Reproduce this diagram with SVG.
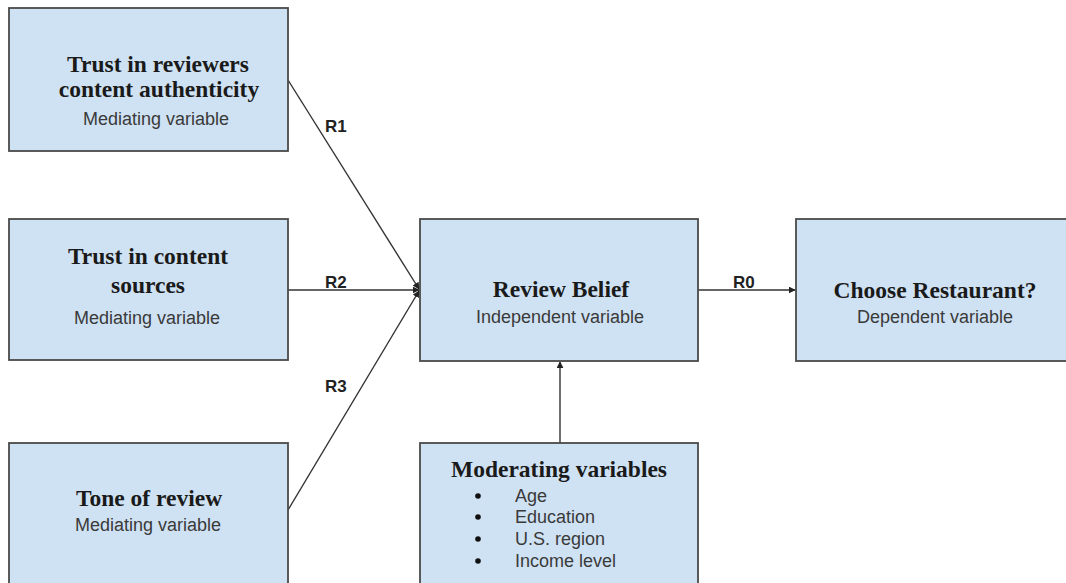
<svg xmlns="http://www.w3.org/2000/svg" width="1066" height="583" viewBox="0 0 1066 583">
<defs>
<style>
.box{fill:#cfe2f3;stroke:#4a4a4a;stroke-width:1.8}
.t{font-family:"Liberation Serif","Times New Roman",serif;font-weight:bold;font-size:23.5px;fill:#1a1a1a;text-anchor:middle}
.s{font-family:"Liberation Sans",Arial,sans-serif;font-size:18px;fill:#3a3a3a;text-anchor:middle}
.l{font-family:"Liberation Sans",Arial,sans-serif;font-size:18px;fill:#3a3a3a}
.r{font-family:"Liberation Sans",Arial,sans-serif;font-weight:bold;font-size:17px;fill:#222}
.c{stroke:#333;stroke-width:1.4;fill:none}
</style>
<marker id="ah" viewBox="0 0 10 10" refX="9" refY="5" markerWidth="7" markerHeight="7" markerUnits="userSpaceOnUse" orient="auto">
<path d="M0,0 L10,5 L0,10 z" fill="#222"/>
</marker>
</defs>
<rect width="1066" height="583" fill="#ffffff"/>
<g id="connectors">
<line class="c" x1="288" y1="80" x2="419" y2="289" marker-end="url(#ah)"/>
<line class="c" x1="288" y1="290" x2="419" y2="290" marker-end="url(#ah)"/>
<line class="c" x1="288" y1="510" x2="419" y2="291" marker-end="url(#ah)"/>
<line class="c" x1="698" y1="290" x2="795" y2="290" marker-end="url(#ah)"/>
<line class="c" x1="560" y1="443" x2="560" y2="362" marker-end="url(#ah)"/>
<text class="r" x="325" y="132">R1</text>
<text class="r" x="325" y="288">R2</text>
<text class="r" x="325" y="392">R3</text>
<text class="r" x="733" y="288">R0</text>
</g>
<g id="node-trust-reviewers">
<rect class="box" x="9" y="8" width="279" height="143"/>
<text class="t" x="158" y="72">Trust in reviewers</text>
<text class="t" x="159" y="97">content authenticity</text>
<text class="s" x="156" y="125">Mediating variable</text>
</g>
<g id="node-trust-sources">
<rect class="box" x="9" y="219" width="279" height="141"/>
<text class="t" x="148" y="264">Trust in content</text>
<text class="t" x="148" y="293">sources</text>
<text class="s" x="147" y="324">Mediating variable</text>
</g>
<g id="node-tone">
<rect class="box" x="9" y="443" width="279" height="150"/>
<text class="t" x="149" y="506">Tone of review</text>
<text class="s" x="148" y="531">Mediating variable</text>
</g>
<g id="node-review-belief">
<rect class="box" x="420" y="219" width="278" height="142"/>
<text class="t" x="561" y="297">Review Belief</text>
<text class="s" x="560" y="323">Independent variable</text>
</g>
<g id="node-choose">
<rect class="box" x="796" y="219" width="280" height="142"/>
<text class="t" x="935" y="298">Choose Restaurant?</text>
<text class="s" x="935" y="323">Dependent variable</text>
</g>
<g id="node-moderating">
<rect class="box" x="420" y="443" width="278" height="150"/>
<text class="t" x="559" y="477">Moderating variables</text>
<circle cx="478" cy="496" r="2.8" fill="#111"/>
<circle cx="478" cy="517" r="2.8" fill="#111"/>
<circle cx="478" cy="539" r="2.8" fill="#111"/>
<circle cx="478" cy="561" r="2.8" fill="#111"/>
<text class="l" x="515" y="502">Age</text>
<text class="l" x="515" y="523">Education</text>
<text class="l" x="515" y="545">U.S. region</text>
<text class="l" x="515" y="567">Income level</text>
</g>
</svg>
